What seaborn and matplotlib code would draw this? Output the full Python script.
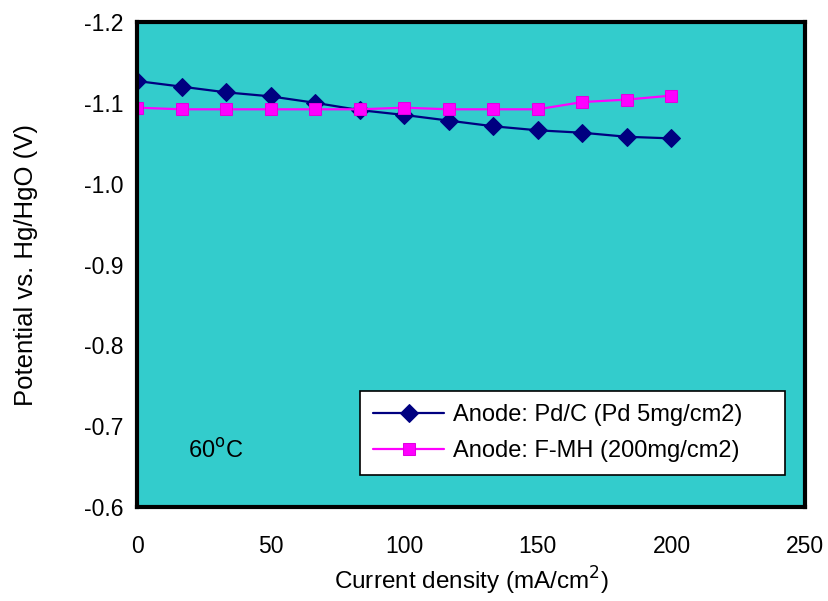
import matplotlib
matplotlib.use("Agg")
import matplotlib.pyplot as plt
import seaborn as sns
import pandas as pd

current = [0, 16.7, 33.3, 50, 66.7, 83.3, 100, 116.7, 133.3, 150, 166.7, 183.3, 200]
pdc = [-1.127, -1.120, -1.113, -1.108, -1.100, -1.091, -1.085, -1.078, -1.071, -1.066, -1.063, -1.058, -1.056]
fmh = [-1.094, -1.092, -1.092, -1.092, -1.092, -1.092, -1.094, -1.092, -1.092, -1.092, -1.101, -1.104, -1.109]
series_names = ["Anode: Pd/C (Pd 5mg/cm2)", "Anode: F-MH (200mg/cm2)"]
yticks = [-1.2, -1.1, -1.0, -0.9, -0.8, -0.7, -0.6]
xticks = [0, 50, 100, 150, 200, 250]

df = pd.DataFrame({
    "x": current * 2,
    "y": pdc + fmh,
    "series": [series_names[0]] * len(current) + [series_names[1]] * len(current),
})

sns.set_style("white")
plt.rcParams["font.family"] = ["Liberation Sans", "DejaVu Sans"]
for k in ["text.color", "axes.labelcolor", "xtick.color", "ytick.color"]:
    plt.rcParams[k] = "black"

fig = plt.figure(figsize=(8.29, 6.01), dpi=100)
ax = fig.add_axes([0.1653, 0.1564, 0.8058, 0.807])
ax.set_facecolor("#33CCCC")

sns.lineplot(data=df[df.series == series_names[0]], x="x", y="y", ax=ax,
             color="#000080", marker="D", markersize=9, markeredgecolor="#000080",
             linewidth=1.6, label=series_names[0])
sns.lineplot(data=df[df.series == series_names[1]], x="x", y="y", ax=ax,
             color="#FF00FF", marker="s", markersize=9, markeredgecolor="#E000E0",
             linewidth=1.6, label=series_names[1])

ax.set_xlim(0, 250)
ax.set_ylim(-0.6, -1.2)
ax.set_xticks(xticks)
ax.set_xticklabels([str(t) for t in xticks])
ax.set_yticks(yticks)
ax.set_yticklabels([f"{t:.1f}" for t in yticks])
ax.tick_params(axis="both", direction="in", length=5, width=1.5, labelsize=16.5, pad=20)
ax.tick_params(axis="y", pad=10)

for s in ax.spines.values():
    s.set_linewidth(3)
    s.set_color("black")

ax.set_xlabel("Current density (mA/cm$^2$)", fontsize=17.5, labelpad=5)
ax.set_ylabel("Potential vs. Hg/HgO (V)", fontsize=18.5, labelpad=33)

ax.text(0.076, 0.115, "60$^{\\mathrm{o}}$C", transform=ax.transAxes, fontsize=17,
        ha="left", va="center")

leg = ax.legend(loc="lower left", bbox_to_anchor=(0.334, 0.066, 0.636, 0.165),
                mode="expand", frameon=True, fontsize=17, handlelength=3.0,
                handletextpad=0.4, borderpad=0.55, labelspacing=0.6,
                borderaxespad=0, fancybox=False)
leg.get_frame().set_edgecolor("black")
leg.get_frame().set_linewidth(1.2)
leg.get_frame().set_facecolor("white")
leg.get_frame().set_alpha(1)

fig.savefig("out.png", dpi=100)
